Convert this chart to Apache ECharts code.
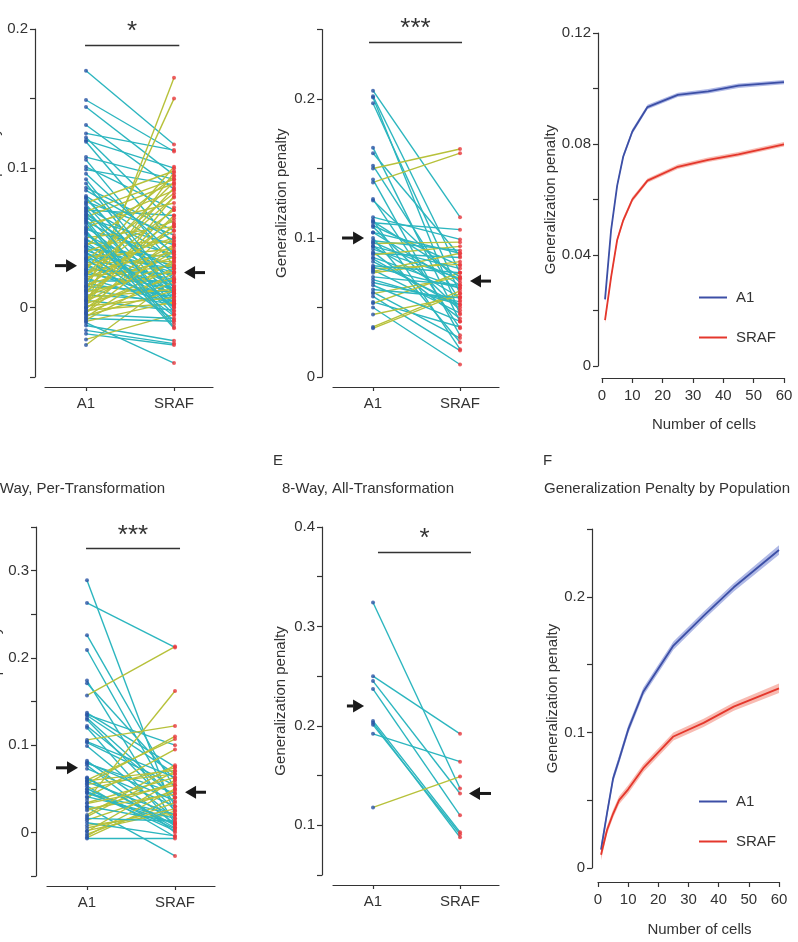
<!DOCTYPE html>
<html>
<head>
<meta charset="utf-8">
<script src="https://cdn.jsdelivr.net/npm/echarts@6/dist/echarts.min.js"></script>
<style>
  html, body { margin: 0; padding: 0; background: #fff; }
  #chart { width: 798px; height: 942px; }
</style>
</head>
<body>
<div id="chart"></div>
<script>
// ---- panel A: 4-way, per-transformation (top left)
const a1A = [
  0.170, 0.149, 0.144, 0.131, 0.125, 0.122, 0.120, 0.119, 0.108, 0.106,
  0.101, 0.099, 0.089, 0.086, 0.000, 0.012, -0.027, -0.011, -0.019, -0.0165,
  -0.013, -0.023, 0.080, 0.078, 0.076, 0.074, 0.072, 0.070, 0.068, 0.066,
  0.064, 0.062, 0.060, 0.058, 0.056, 0.054, 0.052, 0.050, 0.049, 0.048,
  0.047, 0.046, 0.045, 0.044, 0.043, 0.042, 0.041, 0.040, 0.039, 0.038,
  0.037, 0.036, 0.035, 0.034, 0.033, 0.032, 0.031, 0.030, 0.029, 0.028,
  0.027, 0.026, 0.025, 0.024, 0.023, 0.022, 0.021, 0.020, 0.019, 0.018,
  0.017, 0.016, 0.015, 0.014, 0.013, 0.012, 0.011, 0.010, 0.009, 0.008,
  0.007, 0.006, 0.005, 0.004, 0.003, 0.002, 0.001, 0.000, -0.001, -0.002,
  -0.003, -0.004, -0.005, -0.006, -0.007, -0.008, -0.009, -0.010, 0.075, 0.069,
  0.065, 0.057, 0.044, 0.027, 0.063, 0.055, 0.040, 0.071, 0.079, 0.084,
  0.067, 0.053, 0.035, 0.024, 0.015, 0.005, -0.004, 0.092, 0.096, 0.061
];
const srafA = [
  0.117, 0.112, 0.095, 0.085, 0.113, 0.060, 0.100, 0.045, 0.092, 0.030,
  0.070, 0.088, 0.010, 0.055, 0.165, 0.150, 0.020, -0.040, -0.027, -0.026,
  -0.024, -0.005, 0.040, 0.012, 0.052, 0.005, 0.035, 0.066, 0.020, 0.002,
  0.045, 0.028, 0.075, 0.010, 0.038, -0.005, 0.022, 0.058, 0.015, 0.030,
  0.003, 0.047, 0.008, 0.025, 0.000, 0.036, 0.018, 0.062, 0.012, 0.028,
  0.004, 0.042, 0.020, 0.082, 0.010, 0.033, 0.001, 0.050, 0.016, 0.090,
  0.024, 0.006, 0.040, 0.014, 0.070, 0.030, 0.003, 0.055, 0.019, 0.086,
  0.008, 0.036, 0.011, 0.064, 0.002, 0.045, 0.026, 0.097, 0.005, 0.032,
  0.013, 0.072, -0.002, 0.040, 0.021, 0.080, 0.007, 0.028, 0.050, 0.003,
  0.018, 0.060, -0.008, 0.012, 0.034, -0.010, 0.025, 0.004, 0.098, 0.092,
  0.089, 0.084, 0.094, 0.101, -0.012, -0.015, -0.006, -0.003, 0.010, 0.048,
  0.025, 0.000, -0.009, 0.079, 0.058, 0.066, 0.044, 0.014, 0.038, -0.014
];
const meanA = [0.030, 0.025];

// ---- panel B (top middle)
const a1B = [
  0.206, 0.202, 0.201, 0.197, 0.165, 0.161, 0.152, 0.150, 0.140, 0.142,
  0.128, 0.127, 0.115, 0.113, 0.109, 0.111, 0.108, 0.104, 0.100, 0.098,
  0.096, 0.094, 0.092, 0.090, 0.089, 0.086, 0.083, 0.078, 0.077, 0.076,
  0.075, 0.068, 0.061, 0.060, 0.058, 0.054, 0.053, 0.050, 0.045, 0.036,
  0.035, 0.088, 0.094, 0.085, 0.072, 0.066, 0.080, 0.097, 0.104, 0.112,
  0.079, 0.070, 0.063
];
const srafB = [
  0.115, 0.075, 0.045, 0.060, 0.040, 0.087, 0.055, 0.164, 0.161, 0.030,
  0.035, 0.068, 0.099, 0.020, 0.080, 0.106, 0.048, 0.066, 0.025, 0.091,
  0.097, 0.057, 0.071, 0.042, 0.086, 0.064, 0.052, 0.081, 0.046, 0.089,
  0.083, 0.054, 0.028, 0.072, 0.019, 0.036, 0.075, 0.009, 0.058, 0.062,
  0.060, 0.094, 0.078, 0.050, 0.066, 0.040, 0.075, 0.070, 0.089, 0.072,
  0.064, 0.052, 0.057
];
const meanB = [0.100, 0.069];

// ---- panel D: 8-way, per-transformation
const a1D = [
  0.289, 0.263, 0.226, 0.209, 0.174, 0.171, 0.157, 0.137, 0.135, 0.131,
  0.134, 0.129, 0.122, 0.120, 0.106, 0.103, 0.099, 0.082, 0.079, 0.077,
  0.073, 0.063, 0.059, 0.056, 0.053, 0.049, 0.045, 0.040, 0.034, 0.029,
  0.025, 0.018, 0.014, 0.008, 0.002, -0.002, -0.006, -0.007, 0.037, 0.060,
  0.058, 0.050, 0.030, 0.045, 0.027, 0.055, 0.041, 0.020, 0.011, 0.005,
  -0.004, 0.104, 0.080, 0.062, 0.047, 0.033, 0.016, 0.001
];
const srafD = [
  0.020, 0.212, 0.050, 0.030, 0.010, 0.060, 0.213, 0.075, 0.100, 0.040,
  0.067, 0.025, 0.040, 0.006, 0.122, 0.054, 0.016, 0.010, 0.045, 0.000,
  0.030, 0.005, 0.071, 0.110, -0.005, 0.074, 0.020, 0.095, 0.063, -0.027,
  0.057, 0.070, 0.048, 0.021, 0.024, 0.034, 0.040, -0.007, 0.162, 0.107,
  0.020, 0.004, 0.012, 0.010, 0.044, 0.067, 0.016, 0.077, -0.004, 0.027,
  0.050, 0.063, 0.036, 0.008, 0.002, 0.054, 0.013, 0.060
];
const meanD = [0.074, 0.046];

// ---- panel E: 8-way, all-transformation
const a1E = [0.324, 0.250, 0.245, 0.237, 0.205, 0.203, 0.201, 0.192, 0.118];
const srafE = [0.137, 0.192, 0.132, 0.110, 0.093, 0.088, 0.091, 0.164, 0.149];
const meanE = [0.220, 0.132];

// ---- panels C and F: penalty vs number of cells
const cells = [1, 3, 5, 7, 10, 15, 25, 35, 45, 60];
const a1C = [0.024, 0.049, 0.065, 0.0755, 0.0845, 0.0933, 0.0977, 0.0990, 0.1010, 0.1023];
const srafC = [0.0165, 0.032, 0.0454, 0.0525, 0.0600, 0.0668, 0.0718, 0.0743, 0.0763, 0.0799];
const ciC = [0.0012, 0.001, 0.0009, 0.0009, 0.0009, 0.0008, 0.0008, 0.0008, 0.0008, 0.0008];
const a1F = [0.0135, 0.0405, 0.0660, 0.080, 0.102, 0.130, 0.164, 0.186, 0.207, 0.2345];
const srafF = [0.0098, 0.028, 0.040, 0.050, 0.058, 0.0736, 0.097, 0.107, 0.119, 0.1325];
const ciF = [0.004, 0.003, 0.003, 0.003, 0.003, 0.003, 0.003, 0.003, 0.003, 0.0035];

const groups = ['A1', 'SRAF'];

const CYAN = '#2cb6bf';
const OLIVE = '#b7c13a';
const DOT_BLUE = '#2a55a5';
const DOT_RED = '#e8383d';
const CURVE_BLUE = '#3c4fa6';
const CURVE_RED = '#e4372c';
const BAND_BLUE = 'rgba(80,100,200,0.45)';
const BAND_RED = 'rgba(240,105,85,0.45)';
const INK = '#333';
const FONT = '"Liberation Sans", Arial, sans-serif';

const chart = echarts.init(document.getElementById('chart'));

function labelAt(step, digits) {
  return v => {
    const r = v / step;
    if (Math.abs(r - Math.round(r)) > 1e-6) return '';
    return Math.abs(v) < 1e-9 ? '0' : v.toFixed(digits);
  };
}

function yAxisOf(grid, min, max, interval, offset, step, digits, nameGap) {
  return {
    type: 'value', gridIndex: grid, min: min, max: max, interval: interval, offset: offset,
    axisLine: { show: true, onZero: false, lineStyle: { color: INK, width: 1.2 } },
    axisTick: { show: true, length: 5, lineStyle: { color: INK, width: 1.2 } },
    axisLabel: { formatter: labelAt(step, digits), color: INK, fontSize: 15, fontFamily: FONT, margin: 7 },
    splitLine: { show: false },
    name: 'Generalization penalty', nameLocation: 'middle', nameGap: nameGap,
    nameTextStyle: { color: INK, fontSize: 15, fontFamily: FONT }
  };
}

function pairXAxis(grid, min, max) {
  return {
    type: 'value', gridIndex: grid, min: min, max: max, offset: 10,
    axisLine: { show: true, onZero: false, lineStyle: { color: INK, width: 1.2 } },
    axisTick: { show: true, customValues: [0, 1], length: 4, lineStyle: { color: INK, width: 1.2 } },
    axisLabel: { customValues: [0, 1], formatter: v => groups[Math.round(v)], color: INK, fontSize: 15, fontFamily: FONT, margin: 9 },
    splitLine: { show: false }
  };
}

function cellsXAxis(grid, offset, nameGap) {
  return {
    type: 'value', gridIndex: grid, min: 0, max: 60, interval: 10, offset: offset,
    axisLine: { show: true, onZero: false, lineStyle: { color: INK, width: 1.2 } },
    axisTick: { show: true, length: 5, lineStyle: { color: INK, width: 1.2 } },
    axisLabel: { color: INK, fontSize: 15, fontFamily: FONT, margin: 10 },
    splitLine: { show: false },
    name: 'Number of cells', nameLocation: 'middle', nameGap: nameGap,
    nameTextStyle: { color: INK, fontSize: 15, fontFamily: FONT, padding: [0, 0, 0, 22] }
  };
}

function renderPair(params, api) {
  const a = api.value(0), s = api.value(1);
  const p0 = api.coord([0, a]);
  const p1 = api.coord([1, s]);
  return {
    type: 'line',
    shape: { x1: p0[0], y1: p0[1], x2: p1[0], y2: p1[1] },
    style: { stroke: s > a ? OLIVE : CYAN, lineWidth: 1.4 }
  };
}

function renderArrow(params, api) {
  const tail = api.coord([api.value(0), api.value(2)]);
  const tip = api.coord([api.value(1), api.value(2)]);
  const dir = tip[0] > tail[0] ? 1 : -1;
  const base = tip[0] - dir * 11;
  return {
    type: 'group',
    children: [
      { type: 'line', shape: { x1: tail[0], y1: tail[1], x2: base, y2: tip[1] }, style: { stroke: '#1a1a1a', lineWidth: 3 } },
      { type: 'polygon', shape: { points: [[tip[0], tip[1]], [base, tip[1] - 6.5], [base, tip[1] + 6.5]] }, style: { fill: '#1a1a1a' } }
    ]
  };
}

function pairSeries(grid, a1, sraf, means, arrowEnds, sig) {
  return [
    {
      type: 'custom', xAxisIndex: grid, yAxisIndex: grid, silent: true,
      data: a1.map((v, i) => [v, sraf[i]]),
      renderItem: renderPair
    },
    {
      type: 'scatter', xAxisIndex: grid, yAxisIndex: grid, silent: true,
      symbolSize: 4, itemStyle: { color: DOT_BLUE },
      data: a1.map(v => [0, v]),
      markLine: {
        silent: true, symbol: 'none', animation: false,
        lineStyle: { color: INK, width: 1.3, type: 'solid' },
        label: { show: true, position: 'middle', formatter: sig.text, color: INK, fontSize: 26, fontFamily: FONT, distance: 0 },
        data: [[{ coord: [sig.x0, sig.y] }, { coord: [sig.x1, sig.y] }]]
      }
    },
    {
      type: 'scatter', xAxisIndex: grid, yAxisIndex: grid, silent: true,
      symbolSize: 4, itemStyle: { color: DOT_RED },
      data: sraf.map(v => [1, v])
    },
    {
      type: 'custom', xAxisIndex: grid, yAxisIndex: grid, silent: true,
      data: [
        [arrowEnds[0], arrowEnds[1], means[0]],
        [arrowEnds[3], arrowEnds[2], means[1]]
      ],
      encode: { x: [0, 1], y: 2 },
      renderItem: renderArrow
    }
  ];
}

// confidence band drawn as one polygon through the axis scale
function bandSeries(grid, mean, ci, band) {
  return {
    type: 'custom', xAxisIndex: grid, yAxisIndex: grid, silent: true,
    data: cells.map((x, i) => [x, mean[i] - ci[i], mean[i] + ci[i]]),
    encode: { x: 0, y: [1, 2] },
    renderItem: (params, api) => {
      if (params.dataIndex !== 0) return null;
      const upper = cells.map((x, i) => api.coord([x, mean[i] + ci[i]]));
      const lower = cells.map((x, i) => api.coord([x, mean[i] - ci[i]])).reverse();
      return { type: 'polygon', shape: { points: upper.concat(lower) }, style: { fill: band } };
    }
  };
}

function curveSeries(grid, name, mean, ci, color, band) {
  return [
    bandSeries(grid, mean, ci, band),
    {
      type: 'line', name: name, xAxisIndex: grid, yAxisIndex: grid,
      data: cells.map((x, i) => [x, mean[i]]),
      symbol: 'none', lineStyle: { color: color, width: 1.8 }, itemStyle: { color: color }, silent: true
    }
  ];
}

function legendAt(top) {
  return {
    data: ['A1', 'SRAF'], orient: 'vertical', left: 694, top: top,
    icon: 'rect', itemWidth: 28, itemHeight: 2, itemGap: 25, selectedMode: false,
    textStyle: { color: INK, fontSize: 15, fontFamily: FONT, padding: [0, 0, 0, 4] }
  };
}

function text(x, y, str) {
  return { type: 'text', left: x, top: y, style: { text: str, fill: INK, font: '15px ' + FONT } };
}

function gridAt(left, top, width, height) {
  return { left: left, top: top, width: width, height: height, outerBoundsMode: 'none', containLabel: false };
}

const option = {
  animation: false,
  backgroundColor: '#fff',
  grid: [
    gridAt(45, 29, 168, 348),
    gridAt(333, 29.5, 166, 347.5),
    gridAt(602, 33, 182, 333),
    gridAt(47, 527, 168, 349),
    gridAt(333, 527, 166, 348),
    gridAt(598, 529, 181, 339)
  ],
  xAxis: [
    pairXAxis(0, -0.466, 1.443),
    pairXAxis(1, -0.46, 1.448),
    cellsXAxis(2, 12, 39),
    pairXAxis(3, -0.4545, 1.4545),
    pairXAxis(4, -0.46, 1.448),
    cellsXAxis(5, 14, 40)
  ],
  yAxis: [
    yAxisOf(0, -0.05, 0.2, 0.05, 10, 0.1, 1, 33),
    yAxisOf(1, 0, 0.25, 0.05, 11, 0.1, 1, 33),
    yAxisOf(2, 0, 0.12, 0.02, 4, 0.04, 2, 37),
    yAxisOf(3, -0.05, 0.35, 0.05, 11, 0.1, 1, 33),
    yAxisOf(4, 0.05, 0.4, 0.05, 11, 0.1, 1, 34),
    yAxisOf(5, 0, 0.25, 0.05, 6, 0.1, 1, 32)
  ],
  legend: [legendAt(285), legendAt(789)],
  graphic: [
    text(-13.5, 481, '8-Way, Per-Transformation'),
    text(273, 453, 'E'),
    text(282, 481, '8-Way, All-Transformation'),
    text(543, 453, 'F'),
    text(544, 481, 'Generalization Penalty by Population')
  ],
  series: [
    ...pairSeries(0, a1A, srafA, meanA, [-0.352, -0.102, 1.114, 1.352], { text: '*', x0: -0.011, x1: 1.06, y: 0.1885 }),
    ...pairSeries(1, a1B, srafB, meanB, [-0.356, -0.103, 1.115, 1.356], { text: '***', x0: -0.046, x1: 1.023, y: 0.241 }),
    ...curveSeries(2, 'A1', a1C, ciC, CURVE_BLUE, BAND_BLUE),
    ...curveSeries(2, 'SRAF', srafC, ciC, CURVE_RED, BAND_RED),
    ...pairSeries(3, a1D, srafD, meanD, [-0.352, -0.102, 1.114, 1.352], { text: '***', x0: -0.011, x1: 1.057, y: 0.3253 }),
    ...pairSeries(4, a1E, srafE, meanE, [-0.30, -0.103, 1.103, 1.356], { text: '*', x0: 0.057, x1: 1.126, y: 0.375 }),
    ...curveSeries(5, 'A1', a1F, ciF, CURVE_BLUE, BAND_BLUE),
    ...curveSeries(5, 'SRAF', srafF, ciF, CURVE_RED, BAND_RED)
  ]
};

chart.setOption(option);
</script>
</body>
</html>
